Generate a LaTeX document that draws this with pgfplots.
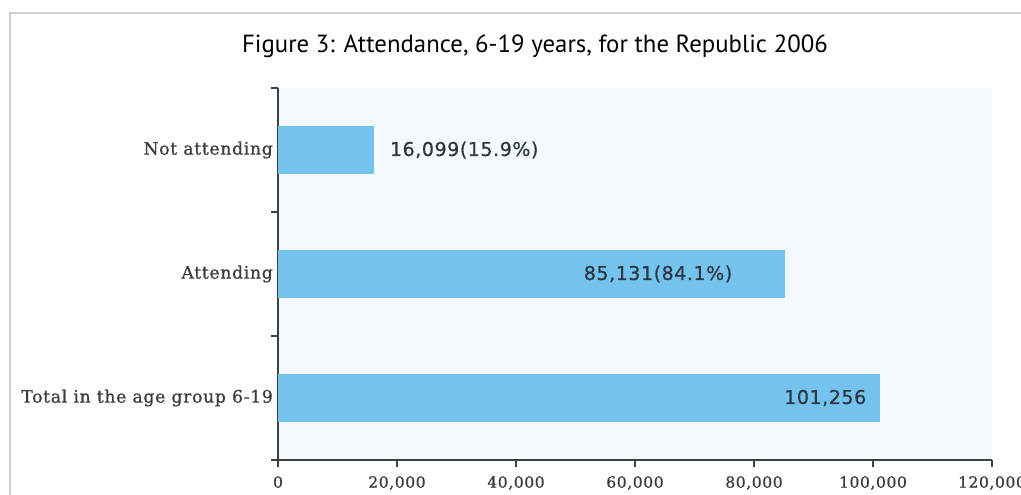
\documentclass[border=0pt]{standalone}
\usepackage{fontspec}
\usepackage{pgfplots}
\pgfplotsset{compat=1.18}
\setmainfont{DejaVu Serif}
\newfontfamily\slabfont[LetterSpace=4, FakeBold=0.8]{DejaVu Serif}
\newfontfamily\titlefont{PT Sans}
\newfontfamily\valfont[LetterSpace=3, FakeBold=0.7]{DejaVu Sans}

\definecolor{barblue}{HTML}{74C3EE}
\definecolor{plotbg}{HTML}{F4F9FD}
\definecolor{axisgrey}{HTML}{404040}
\definecolor{framegrey}{HTML}{CFCFCF}
\definecolor{labelgrey}{HTML}{3C3C3C}
\definecolor{valgrey}{HTML}{2E3640}

\begin{document}
\begin{tikzpicture}
\clip (0pt,0pt) rectangle (1021pt,495pt);
\fill[white] (0pt,0pt) rectangle (1021pt,495pt);
% page frame
\draw[framegrey, line width=1.6pt] (10pt,-2pt) -- (10pt,482pt) -- (1023pt,482pt);
% title
\node[anchor=base, font=\titlefont\fontsize{24.8}{30}\selectfont, inner sep=0pt]
  at (535pt,442pt) {Figure 3: Attendance, 6-19 years, for the Republic 2006};

\begin{axis}[
  at={(278pt,35pt)}, anchor=south west,
  scale only axis, width=714pt, height=372pt,
  xbar, bar width=48pt, bar shift=0pt,
  xmin=0, xmax=120000, ymin=-0.5, ymax=2.5,
  axis x line*=bottom, axis y line*=left,
  axis line style={axisgrey, line width=1.5pt},
  axis background/.style={fill=plotbg},
  tick align=outside,
  major tick length=7pt,
  every tick/.style={axisgrey, line width=1.8pt},
  xtick={0,20000,40000,60000,80000,100000,120000},
  xticklabels={0,{20,000},{40,000},{60,000},{80,000},{100,000},{120,000}},
  xticklabel style={font=\slabfont\fontsize{15.5}{18}\selectfont, text=labelgrey, inner sep=0pt, yshift=-9pt},
  % boundaries between categories carry the tick marks
  ytick={-0.5,0.5,1.5,2.5},
  yticklabels={},
  % category names sit at the bar centres, without marks
  extra y ticks={0,1,2},
  extra y tick labels={Total in the age group 6-19, Attending, Not attending},
  extra y tick style={major tick length=0pt,
    yticklabel style={font=\slabfont\fontsize{17.2}{20}\selectfont, text=labelgrey, inner sep=0pt, xshift=-5pt}},
]
\addplot[fill=barblue, draw=none,
  nodes near coords={101,256},
  every node near coord/.style={font=\valfont\fontsize{19}{22}\selectfont, text=valgrey, inner sep=0pt, anchor=east, xshift=-14pt}]
  coordinates {(101256,0)};
\addplot[fill=barblue, draw=none,
  nodes near coords={85,131(84.1\%)},
  every node near coord/.style={font=\valfont\fontsize{19}{22}\selectfont, text=valgrey, inner sep=0pt, anchor=east, xshift=-52pt}]
  coordinates {(85131,1)};
\addplot[fill=barblue, draw=none,
  nodes near coords={16,099(15.9\%)},
  every node near coord/.style={font=\valfont\fontsize{19}{22}\selectfont, text=valgrey, inner sep=0pt, anchor=west, xshift=16pt}]
  coordinates {(16099,2)};
\end{axis}
\end{tikzpicture}
\end{document}
